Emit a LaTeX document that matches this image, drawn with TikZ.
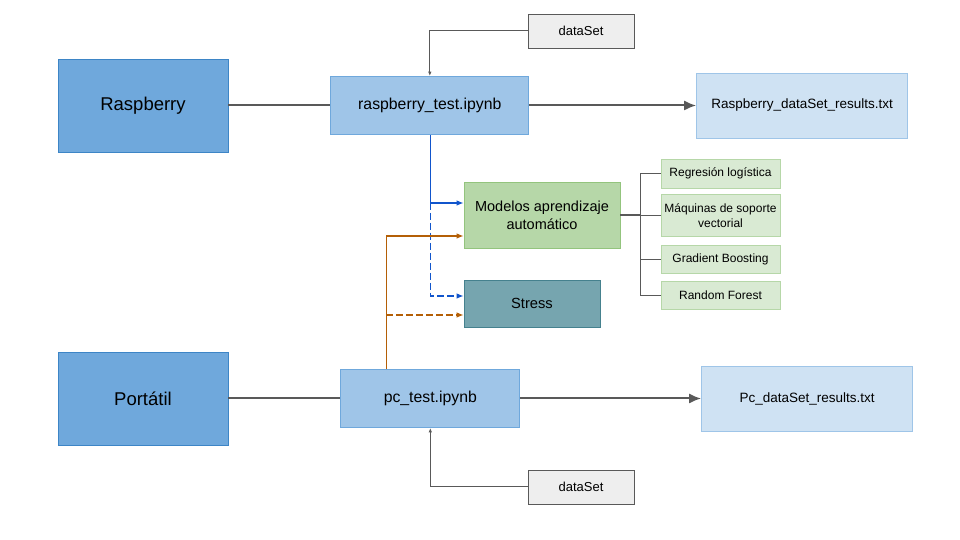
\documentclass[tikz,border=0pt]{standalone}
\usepackage{fontspec}
\setmainfont{Liberation Sans}
\usepackage{tikz}
\usetikzlibrary{positioning,arrows.meta}

\definecolor{devfill}{HTML}{6FA8DC}
\definecolor{devline}{HTML}{3D85C6}
\definecolor{nbfill}{HTML}{9FC5E8}
\definecolor{resfill}{HTML}{CFE2F3}
\definecolor{dsfill}{HTML}{EEEEEE}
\definecolor{lgray}{HTML}{595959}
\definecolor{mlfill}{HTML}{B6D7A8}
\definecolor{mlline}{HTML}{93C47D}
\definecolor{stfill}{HTML}{76A5AF}
\definecolor{stline}{HTML}{45818E}
\definecolor{algfill}{HTML}{D9EAD3}
\definecolor{rline}{HTML}{1155CC}
\definecolor{pline}{HTML}{B45F06}

\tikzset{
  box/.style={draw, inner sep=0pt, align=center, line width=0.8pt},
  device/.style={box, fill=devfill, draw=devline, minimum width=170pt, minimum height=93pt, font=\fontsize{18.5}{22}\selectfont},
  notebook/.style={box, fill=nbfill, draw=devfill, minimum height=58pt, font=\fontsize{15.8}{19}\selectfont},
  result/.style={box, fill=resfill, draw=nbfill, minimum width=211pt, minimum height=65pt, font=\fontsize{13.5}{16}\selectfont},
  dataset/.style={box, fill=dsfill, draw=lgray, minimum width=106pt, minimum height=34pt, font=\fontsize{13}{16}\selectfont},
  algo/.style={box, fill=algfill, draw=mlfill, minimum width=119pt, font=\fontsize{12}{14.5}\selectfont},
  link/.style={draw=lgray, line width=2pt},
  output/.style={link, -{Latex[length=12pt,width=10pt]}},
  feed/.style={draw=lgray, line width=1pt, -{Latex[length=4.5pt,width=3.5pt]}},
  branch/.style={draw=lgray, line width=1.1pt},
  runr/.style={draw=rline, line width=1.1pt, -{Latex[length=7pt,width=5.5pt]}},
  runp/.style={draw=pline, line width=1.1pt, -{Latex[length=7pt,width=5.5pt]}},
  longdash/.style={dash pattern=on 7pt off 3pt}
}

\begin{document}
\begin{tikzpicture}[x=1pt, y=1pt]
  \useasboundingbox (0,0) rectangle (960,540);

  % devices and notebooks
  \node [device] (rasp) at (143,434.5) {Raspberry};
  \node [notebook, minimum width=198pt, right=102pt of rasp] (rtest) {raspberry\_test.ipynb};
  \node [result, right=167pt of rtest] (rres) {Raspberry\_dataSet\_results.txt};
  \node [device] (port) at (143,141.5) {Portátil};
  \node [notebook, minimum width=179pt, right=112pt of port] (pctest) {pc\_test.ipynb};
  \node [result, right=181pt of pctest] (pres) {Pc\_dataSet\_results.txt};

  % input data
  \node [dataset] (dstop) at (581,509) {dataSet};
  \node [dataset] (dsbot) at (581,53) {dataSet};

  % models
  \node [box, fill=mlfill, draw=mlline, minimum width=156pt, minimum height=66pt,
         font=\fontsize{14.5}{18}\selectfont] (ml) at (542,325) {Modelos aprendizaje\\automático};
  \node [box, fill=stfill, draw=stline, minimum width=136pt, minimum height=47pt,
         font=\fontsize{14.7}{18}\selectfont] (stress) at (532,236.5) {Stress};
  \node [algo, minimum height=29pt] (reg) at (720.5,366.5) {Regresión logística};
  \node [algo, minimum height=42pt, below=6pt of reg] (svm) {Máquinas de soporte\\vectorial};
  \node [algo, minimum height=28pt, below=7.5pt of svm] (gb) {Gradient Boosting};
  \node [algo, minimum height=28pt, below=7.5pt of gb] (rf) {Random Forest};

  % connections
  \draw [link] (rasp) -- (rtest);
  \draw [output] (rtest) -- (rres);
  \draw [link] (port) -- (pctest);
  \draw [output] (pctest) -- (pres);
  \draw [feed] (dstop.west) -| (rtest.north);
  \draw [feed] (dsbot.west) -| (pctest.south);

  \coordinate (bus) at ([xshift=20pt]ml.east);
  \draw [branch] (ml.east) -- (bus);
  \foreach \m in {reg, svm, gb, rf}
    \draw [branch] (bus) |- (\m.west);

  \coordinate (rdown) at ([xshift=0.5pt]rtest.south);
  \coordinate (rin) at ([yshift=12pt]ml.west);
  \coordinate (sr) at ([yshift=7.5pt]stress.west);
  \coordinate (pin) at ([yshift=-21pt]ml.west);
  \coordinate (sp) at ([yshift=-11.5pt]stress.west);
  \coordinate (pup) at ([xshift=-44pt]pctest.north);
  \draw [runr] (rdown) |- (rin);
  \draw [runr, longdash] (rdown |- rin) |- (sr);
  \draw [runp] (pup) |- (pin);
  \draw [runp, longdash] (pup |- sp) -- (sp);
\end{tikzpicture}
\end{document}
